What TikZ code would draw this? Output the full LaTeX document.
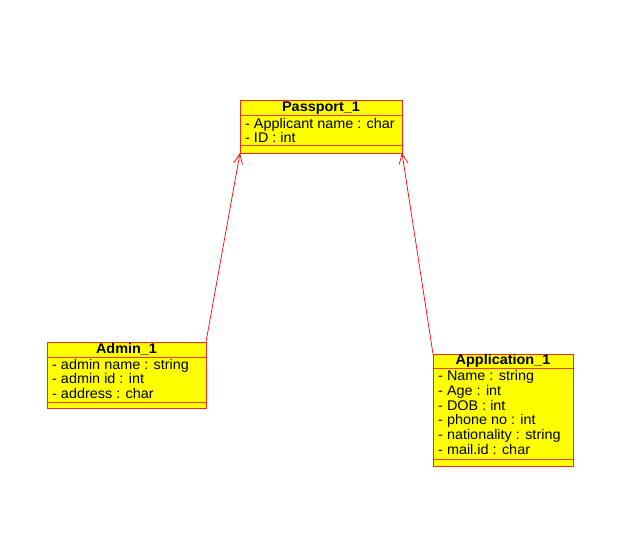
\documentclass[tikz,border=0pt]{standalone}
\usepackage{fontspec}
\setmainfont{Liberation Sans}[FakeStretch=1.03]
\usetikzlibrary{arrows.meta}
\definecolor{umlfill}{RGB}{255,255,0}
\definecolor{umlline}{RGB}{240,40,40}
\definecolor{umldiv}{RGB}{240,60,20}
\tikzset{
 classbox/.style={draw=umlline, fill=umlfill, line width=1pt, anchor=north west, inner sep=0pt, outer sep=0pt},
 divider/.style={draw=umldiv, line width=1pt},
 ctitle/.style={font=\fontsize{14}{14}\selectfont\bfseries, inner sep=0pt, text height=10pt, text depth=3pt},
 attr/.style={font=\fontsize{14}{14}\selectfont, anchor=west, inner sep=0pt, text height=10pt, text depth=3pt},
 assoc/.style={draw=red, line width=0.7pt, -{Straight Barb[length=10pt,width=9pt]}}
}
\begin{document}
\begin{tikzpicture}[x=1pt,y=-1pt]
\useasboundingbox (0,0) rectangle (635,557);
% Passport_1
\node[classbox, minimum width=162pt, minimum height=53pt] (passport) at (240,100) {};
\draw[divider] (240,115) -- (402,115);
\draw[divider] (240,145) -- (402,145);
\node[ctitle] (passportT) at (321,107.5) {Passport\_1};
\node[attr] (pa1) at (245,124.5) {- Applicant name : char};
\node[attr] (pa2) at (245,138.5) {- ID : int};
% Admin_1
\node[classbox, minimum width=159pt, minimum height=66pt] (admin) at (47,342) {};
\draw[divider] (47,357) -- (206,357);
\draw[divider] (47,402) -- (206,402);
\node[ctitle] (adminT) at (126.5,349.5) {Admin\_1};
\node[attr] (aa1) at (52,365.5) {- admin name : string};
\node[attr] (aa2) at (52,380) {- admin id : int};
\node[attr] (aa3) at (52,394.5) {- address : char};
% Application_1
\node[classbox, minimum width=140pt, minimum height=112pt] (app) at (433,354) {};
\draw[divider] (433,368) -- (573,368);
\draw[divider] (433,459) -- (573,459);
\node[ctitle] (appT) at (503,361) {Application\_1};
\node[attr] (ap1) at (438,377) {- Name : string};
\node[attr] (ap2) at (438,391.8) {- Age : int};
\node[attr] (ap3) at (438,406.6) {- DOB : int};
\node[attr] (ap4) at (438,421.4) {- phone no : int};
\node[attr] (ap5) at (438,436.2) {- nationality : string};
\node[attr] (ap6) at (438,451) {- mail.id : char};
% associations
\draw[assoc] (admin.north east) -- (passport.south west);
\draw[assoc] (app.north west) -- (passport.south east);
\end{tikzpicture}
\end{document}
